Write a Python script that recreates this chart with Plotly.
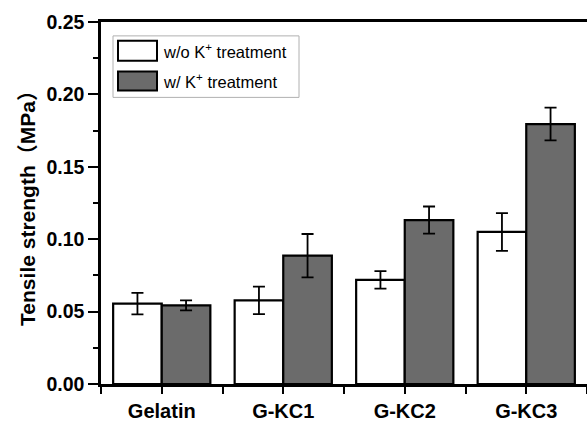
import plotly.graph_objects as go

categories = ["Gelatin", "G-KC1", "G-KC2", "G-KC3"]
wo_values = [0.0555, 0.0578, 0.0719, 0.1050]
wo_errors = [0.0074, 0.0095, 0.0060, 0.0130]
w_values = [0.0543, 0.0886, 0.1132, 0.1795]
w_errors = [0.0035, 0.0150, 0.0094, 0.0113]
series_names = ["w/o K<sup>+</sup> treatment", "w/ K<sup>+</sup> treatment"]
y_ticks = [0.00, 0.05, 0.10, 0.15, 0.20, 0.25]

FONT = "Liberation Sans, Arial, Noto Sans CJK SC, sans-serif"
GRAY = "#6b6b6b"
x_idx = list(range(len(categories)))

fig = go.Figure()
for vals, errs, fill, name in [(wo_values, wo_errors, "white", series_names[0]),
                               (w_values, w_errors, GRAY, series_names[1])]:
    fig.add_trace(go.Bar(
        x=x_idx, y=vals, name=name, showlegend=False,
        marker=dict(color=fill, line=dict(color="black", width=2.2)),
        error_y=dict(type="data", array=errs, visible=True, color="black",
                     thickness=1.8, width=6),
    ))

fig.update_layout(
    width=587, height=422,
    margin=dict(l=101, r=0, t=22, b=35),
    paper_bgcolor="white", plot_bgcolor="white",
    barmode="group", bargap=0.2, bargroupgap=0,
    font=dict(family=FONT, color="black"),
)
fig.update_xaxes(
    range=[-0.5, 3.5], tickvals=x_idx, ticktext=[f"<b>{c}</b>" for c in categories],
    tickfont=dict(size=20, family=FONT, color="black"), showline=True, linecolor="black", linewidth=2.5,
    mirror=True, ticks="outside", ticklen=7, tickwidth=2, tickcolor="black",
    minor=dict(tick0=-0.5, dtick=1, ticks="outside", ticklen=7, tickwidth=2, tickcolor="black"),
    showgrid=False, zeroline=False,
)
fig.update_yaxes(
    range=[0, 0.25], tickvals=y_ticks, ticktext=[f"<b>{v:.2f}</b>" for v in y_ticks],
    tickfont=dict(size=19.5, family=FONT, color="black"), showline=True, linecolor="black", linewidth=2.5,
    ticks="outside", ticklen=10, tickwidth=2, tickcolor="black",
    minor=dict(dtick=0.025, tick0=0, ticks="outside", ticklen=5, tickwidth=2, tickcolor="black"),
    showgrid=False, zeroline=False,
    title=dict(text="<b>Tensile strength（MPa）</b>", font=dict(size=21, family=FONT, color="black"),
               standoff=6),
)

# custom legend (paper coordinates of plot area)
def px_x(p):
    return (p - 101) / 486
def px_y(p):
    return (387 - p) / 365

fig.add_shape(type="rect", xref="paper", yref="paper",
              x0=px_x(113), x1=px_x(299), y0=px_y(98), y1=px_y(36),
              line=dict(color="#b0b0b0", width=1), fillcolor="white", layer="above")
for (top, bot), fill, name in [((41, 61), "white", series_names[0]), ((72, 91), GRAY, series_names[1])]:
    fig.add_shape(type="rect", xref="paper", yref="paper",
                  x0=px_x(118), x1=px_x(157), y0=px_y(bot), y1=px_y(top),
                  line=dict(color="black", width=2), fillcolor=fill, layer="above")
    fig.add_annotation(xref="paper", yref="paper", x=px_x(161), y=px_y((top + bot) / 2),
                       text=name, showarrow=False, xanchor="left", yanchor="middle",
                       font=dict(size=16.5, family=FONT, color="black"))

fig.write_html("out.html")
